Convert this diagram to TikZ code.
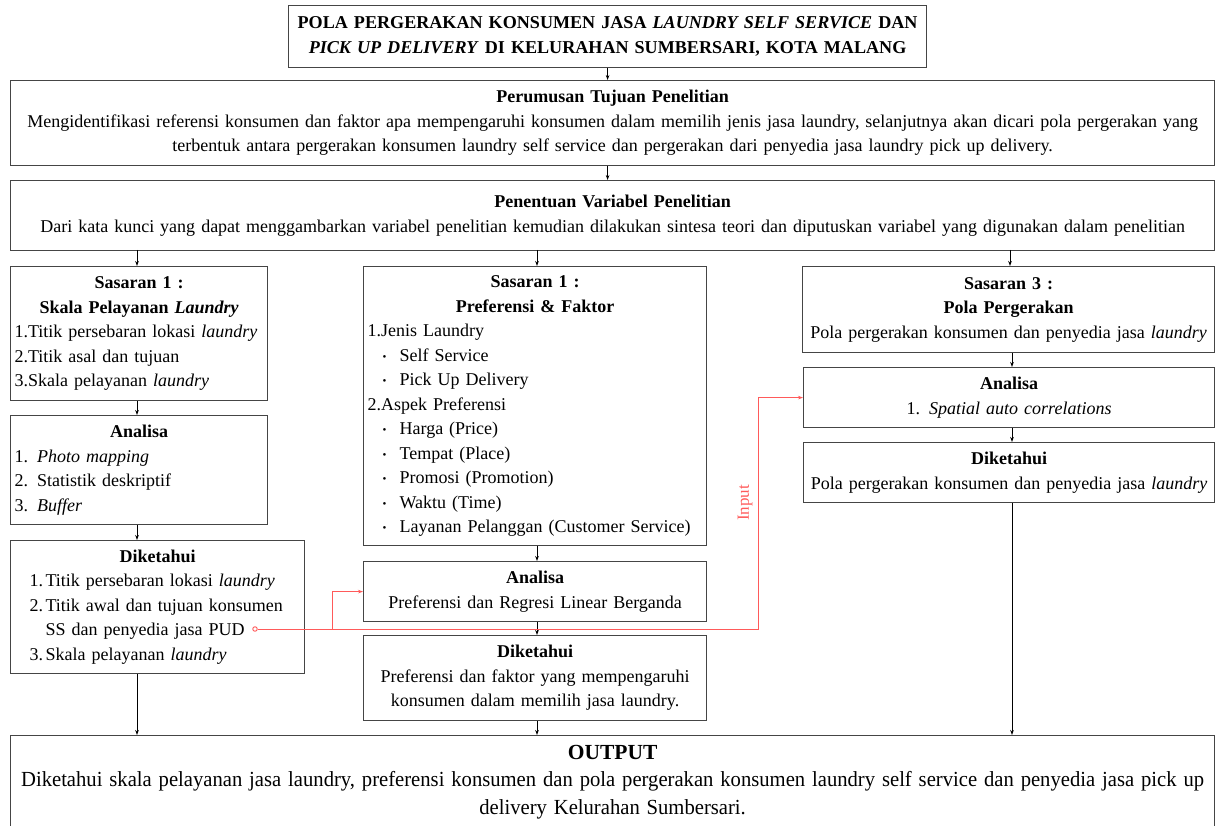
\documentclass[tikz,border=0pt]{standalone}
\usepackage{fontspec}
\setmainfont{Liberation Serif}
\usetikzlibrary{arrows.meta}
\definecolor{boxgray}{HTML}{454545}
\definecolor{inred}{HTML}{FF5A5A}
\newcommand{\cln}[1]{\makebox[\hsize][c]{#1}}
\newcommand{\lln}[1]{\makebox[\hsize][l]{#1}}
\newcommand{\bul}[1]{\makebox[\hsize][l]{\hspace*{15pt}\makebox[17pt][l]{\raisebox{1pt}{\fontsize{11}{11}\selectfont\textbullet}}#1}}
\newcommand{\num}[1]{\hspace*{15pt}\makebox[16pt][l]{#1}}
\begin{document}
\begin{tikzpicture}[x=1pt,y=-1pt,
  box/.style={draw=boxgray, line width=1.2pt, rectangle, inner xsep=4pt, inner ysep=0pt,
    align=left, font=\fontsize{18}{24.5}\selectfont, anchor=north west},
  arr/.style={-{Stealth[length=5pt,width=3.6pt]}, line width=0.9pt, black},
  red/.style={draw=inred, line width=1pt}]
\path[use as bounding box, clip] (0,0) rectangle (1221,826);

\node[box, minimum width=638pt, minimum height=62pt, text width=630pt,
  font=\fontsize{18.1}{25}\selectfont\bfseries] (title) at (288,5)
  {\cln{POLA PERGERAKAN KONSUMEN JASA \textit{LAUNDRY SELF SERVICE} DAN}\\
   \cln{\textit{PICK UP DELIVERY} DI KELURAHAN SUMBERSARI, KOTA MALANG}};

\node[box, minimum width=1204pt, minimum height=85pt, text width=1196pt] (b2) at (10,80)
  {\cln{\bfseries Perumusan Tujuan Penelitian}\\
   \cln{Mengidentifikasi referensi konsumen dan faktor apa mempengaruhi konsumen dalam memilih jenis jasa laundry, selanjutnya akan dicari pola pergerakan yang}\\
   \cln{terbentuk antara pergerakan konsumen laundry self service dan pergerakan dari penyedia jasa laundry pick up delivery.}};

\node[box, minimum width=1204pt, minimum height=70pt, text width=1196pt] (b3) at (10,180)
  {\cln{\bfseries Penentuan Variabel Penelitian}\\
   \cln{Dari kata kunci yang dapat menggambarkan variabel penelitian kemudian dilakukan sintesa teori dan diputuskan variabel yang digunakan dalam penelitian}};

\node[box, minimum width=257pt, minimum height=134pt, text width=249pt] (s1) at (10,266)
  {\cln{\bfseries Sasaran 1 :}\\
   \cln{\bfseries Skala Pelayanan \textit{Laundry}}\\
   \lln{1.Titik persebaran lokasi \textit{laundry}}\\
   \lln{2.Titik asal dan tujuan}\\
   \lln{3.Skala pelayanan \textit{laundry}}};

\node[box, minimum width=257pt, minimum height=109pt, text width=249pt] (an1) at (10,415)
  {\cln{\bfseries Analisa}\\
   \lln{1. \textit{Photo mapping}}\\
   \lln{2. Statistik deskriptif}\\
   \lln{3. \textit{Buffer}}};

\node[box, minimum width=294pt, minimum height=133pt, text width=286pt] (dk1) at (10,540)
  {\cln{\bfseries Diketahui}\\
   \lln{\num{1.}Titik persebaran lokasi \textit{laundry}}\\
   \lln{\num{2.}Titik awal dan tujuan konsumen}\\
   \lln{\num{}SS dan penyedia jasa PUD}\\
   \lln{\num{3.}Skala pelayanan \textit{laundry}}};

\node[box, minimum width=343pt, minimum height=279pt, text width=335pt] (sM) at (363,266)
  {\cln{\bfseries Sasaran 1 :}\\
   \cln{\bfseries Preferensi \& Faktor}\\
   \lln{1.Jenis Laundry}\\
   \bul{Self Service}\\
   \bul{Pick Up Delivery}\\
   \lln{2.Aspek Preferensi}\\
   \bul{Harga (Price)}\\
   \bul{Tempat (Place)}\\
   \bul{Promosi (Promotion)}\\
   \bul{Waktu (Time)}\\
   \bul{Layanan Pelanggan (Customer Service)}};

\node[box, minimum width=343pt, minimum height=60pt, text width=335pt] (anM) at (363,561)
  {\cln{\bfseries Analisa}\\
   \cln{Preferensi dan Regresi Linear Berganda}};

\node[box, minimum width=343pt, minimum height=85pt, text width=335pt] (dkM) at (363,635)
  {\cln{\bfseries Diketahui}\\
   \cln{Preferensi dan faktor yang mempengaruhi}\\
   \cln{konsumen dalam memilih jasa laundry.}};

\node[box, minimum width=412pt, minimum height=86pt, text width=404pt] (sR) at (802,266)
  {\cln{\bfseries Sasaran 3 :}\\
   \cln{\bfseries Pola Pergerakan}\\
   \cln{Pola pergerakan konsumen dan penyedia jasa \textit{laundry}}};

\node[box, minimum width=411pt, minimum height=60pt, text width=403pt] (anR) at (803,367)
  {\cln{\bfseries Analisa}\\
   \cln{1. \textit{Spatial auto correlations}}};

\node[box, minimum width=411pt, minimum height=60pt, text width=403pt] (dkR) at (803,442)
  {\cln{\bfseries Diketahui}\\
   \cln{Pola pergerakan konsumen dan penyedia jasa \textit{laundry}}};

\node[box, minimum width=1204pt, minimum height=93pt, text width=1196pt,
  font=\fontsize{21.5}{27.5}\selectfont] (out) at (10,735)
  {\cln{\bfseries OUTPUT}\\
   \cln{\scalebox{0.96}[1]{Diketahui skala pelayanan jasa laundry, preferensi konsumen dan pola pergerakan konsumen laundry self service dan penyedia jasa pick up}}\\
   \cln{\scalebox{0.96}[1]{delivery Kelurahan Sumbersari.}}};

% black connectors
\draw[arr] (title.south) -- (title.south |- b2.north);
\draw[arr] (title.south |- b2.south) -- (title.south |- b3.north);
\draw[arr] (137,250) coordinate (c1) -- (c1 |- s1.north);
\draw[arr] (537,250) coordinate (c2) -- (c2 |- sM.north);
\draw[arr] (1010,250) coordinate (c3) -- (c3 |- sR.north);
\draw[arr] (c1 |- s1.south) -- (c1 |- an1.north);
\draw[arr] (c1 |- an1.south) -- (c1 |- dk1.north);
\draw[arr] (c1 |- dk1.south) -- (c1 |- out.north);
\draw[arr] (c2 |- sM.south) -- (c2 |- anM.north);
\draw[arr] (c2 |- anM.south) -- (c2 |- dkM.north);
\draw[arr] (c2 |- dkM.south) -- (c2 |- out.north);
\coordinate (c4) at (1012,250);
\draw[arr] (c4 |- sR.south) -- (c4 |- anR.north);
\draw[arr] (c4 |- anR.south) -- (c4 |- dkR.north);
\draw[arr] (c4 |- dkR.south) -- (c4 |- out.north);

% red input connectors
\node[circle, draw=inred, fill=white, line width=0.9pt, inner sep=0pt, minimum size=4.5pt] (pud) at (255,629) {};
\coordinate (rv) at (758,629);
\coordinate (rb) at (332,629);
\draw[red, -{Stealth[length=5pt,width=3.6pt]}] (pud.east) -- (rv) -- (rv |- anR.west) -- (anR.west);
\draw[red, -{Stealth[length=5pt,width=3.6pt]}] (rb) -- (rb |- anM.west) -- (anM.west);
\node[text=inred, rotate=90, font=\fontsize{17}{17}\selectfont] (inp) at (745,503) {Input};
\end{tikzpicture}
\end{document}
